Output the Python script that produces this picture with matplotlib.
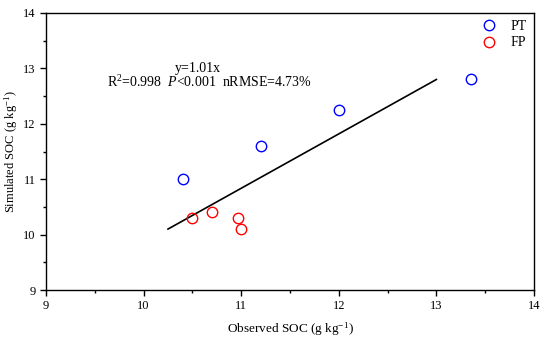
import matplotlib.pyplot as plt
from matplotlib.ticker import MultipleLocator
import numpy as np

plt.rcParams['font.family'] = ['Liberation Serif', 'DejaVu Serif']
plt.rcParams['mathtext.fontset'] = 'custom'
plt.rcParams['mathtext.rm'] = 'Liberation Serif'
plt.rcParams['mathtext.it'] = 'Liberation Serif:italic'

# observed vs simulated SOC
pt_obs = [10.4, 11.2, 12.0, 13.35]
pt_sim = [11.0, 11.6, 12.25, 12.8]
fp_obs = [10.5, 10.7, 10.97, 11.0]
fp_sim = [10.3, 10.4, 10.3, 10.1]

# fitted line end points
fit_x = [10.25, 13.0]
fit_y = [10.1, 12.8]

fig = plt.figure(figsize=(5.5, 3.42), dpi=100)
ax = fig.add_axes([0.0836, 0.152, 0.8873, 0.81])

ax.plot(fit_x, fit_y, color='black', lw=1.2)
ax.plot(pt_obs, pt_sim, 'o', mfc='none', mec='blue', ms=7.5, mew=1.0, label='PT')
ax.plot(fp_obs, fp_sim, 'o', mfc='none', mec='red', ms=7.5, mew=1.0, label='FP')

ax.set_xlim(9, 14)
ax.set_ylim(9, 14)
ax.xaxis.set_major_locator(MultipleLocator(1))
ax.xaxis.set_minor_locator(MultipleLocator(0.5))
ax.yaxis.set_major_locator(MultipleLocator(1))
ax.yaxis.set_minor_locator(MultipleLocator(0.5))
ax.tick_params(which='both', direction='out', top=False, right=False, labelsize=9)
ax.tick_params(which='major', length=4, width=1)
ax.tick_params(which='minor', length=2.5, width=1)
for s in ax.spines.values():
    s.set_linewidth(1.0)

ax.set_xlabel('Observed SOC (g kg$^{-1}$)', fontsize=9.5, labelpad=6)
ax.set_ylabel('Simulated SOC (g kg$^{-1}$)', fontsize=9, labelpad=2)

ax.text(10.56, 13.0, 'y=1.01x', fontsize=10, ha='center', va='center')
ax.text(9.63, 12.75, 'R$^\\mathregular{2}$=0.998  $P$<0.001  nRMSE=4.73%', fontsize=10,
        ha='left', va='center')

ax.legend(loc='upper right', frameon=False, fontsize=10, handletextpad=0.8,
          borderaxespad=0.1, labelspacing=0.25, handlelength=1.5)

fig.savefig('out.png', dpi=100)
